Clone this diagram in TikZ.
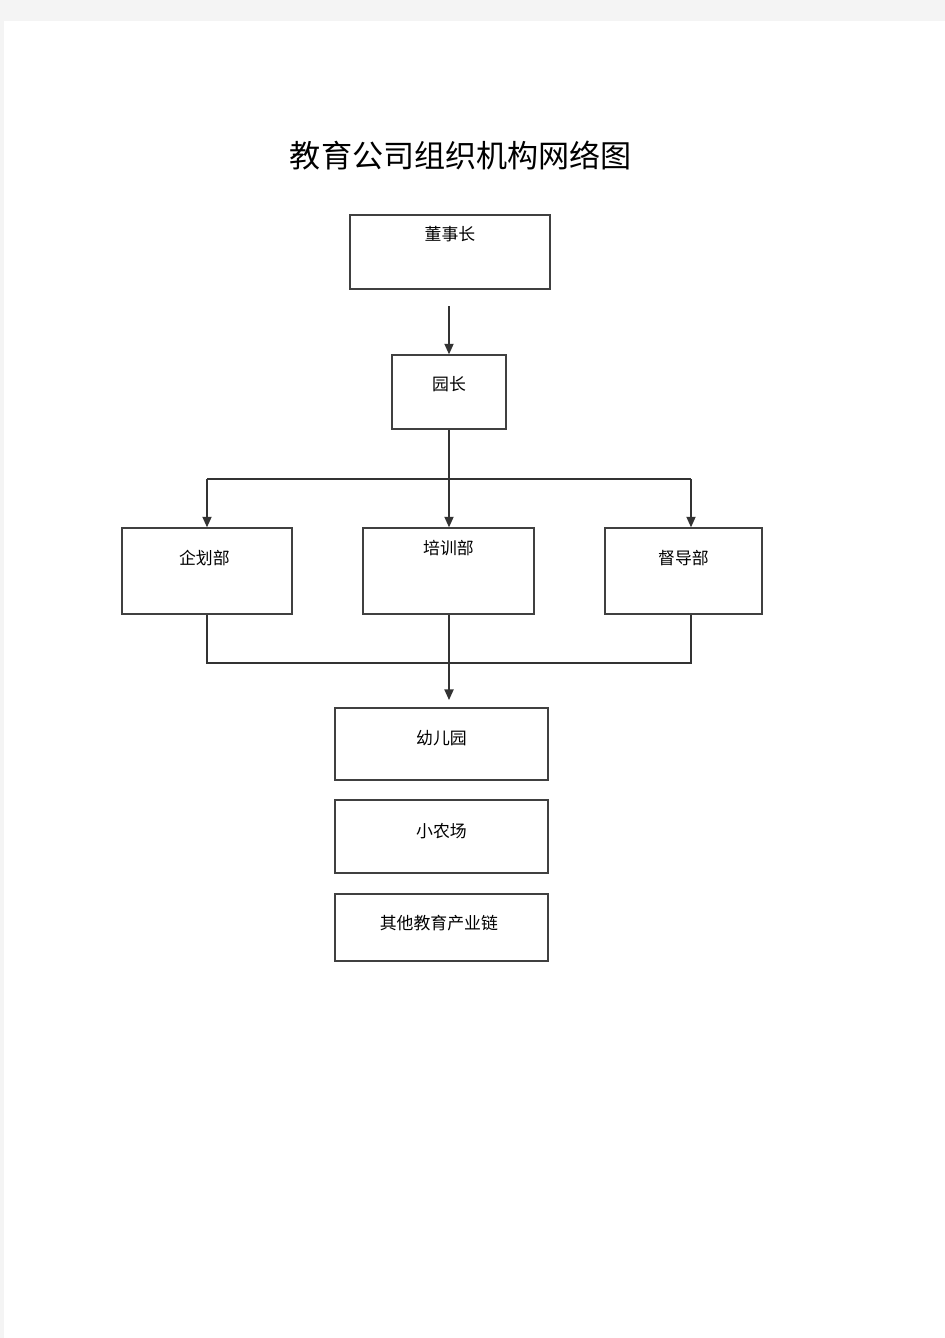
\documentclass[tikz,border=0pt]{standalone}
\usepackage{fontspec}
\newfontfamily\cjk{Noto Sans CJK SC}
\usetikzlibrary{arrows.meta}
\definecolor{pagegray}{HTML}{F4F4F4}
\tikzset{
  box/.style={draw=black!75, line width=0.8pt, inner sep=0pt},
  link/.style={draw=black!80, line width=0.8pt},
  tip/.style={link, -{Triangle[length=6pt,width=5.2pt]}},
}
\begin{document}
\begin{tikzpicture}[x=0.02cm, y=-0.02cm, font=\cjk\fontsize{9.6}{11}\selectfont]
  \fill[pagegray] (0,0) rectangle (945,1338);
  \fill[white] (4,21) rectangle (945,1338);
  \useasboundingbox (0,0) rectangle (945,1338);
  \node (title) at (461,156) {\fontsize{17.7}{20}\selectfont 教育公司组织机构网络图};
  % boxes
  \node[box, minimum width=4cm, minimum height=1.48cm,
        label={[anchor=center,yshift=-11.3pt]north:董事长}] (dsz) at (450,252) {};
  \node[box, minimum width=2.28cm, minimum height=1.48cm,
        label={[anchor=center,yshift=-16.8pt]north:园长}] (yz) at (449,392) {};
  \node[box, minimum width=3.4cm, minimum height=1.72cm,
        label={[anchor=center,yshift=-17.3pt,xshift=-1.5pt]north:企划部}] (qhb) at (207,571) {};
  \node[box, minimum width=3.42cm, minimum height=1.72cm,
        label={[anchor=center,yshift=-11.8pt]north:培训部}] (pxb) at (448.5,571) {};
  \node[box, minimum width=3.14cm, minimum height=1.72cm,
        label={[anchor=center,yshift=-17.3pt]north:督导部}] (ddb) at (683.5,571) {};
  \node[box, minimum width=4.26cm, minimum height=1.44cm,
        label={[anchor=center,yshift=-17.3pt]north:幼儿园}] (yey) at (441.5,744) {};
  \node[box, minimum width=4.26cm, minimum height=1.46cm,
        label={[anchor=center,yshift=-17.9pt]north:小农场}] (xnc) at (441.5,836.5) {};
  \node[box, minimum width=4.26cm, minimum height=1.34cm,
        label={[anchor=center,yshift=-16.8pt,xshift=-1.5pt]north:其他教育产业链}] (qt) at (441.5,927.5) {};
  % connectors
  \coordinate (top) at (449,306);
  \coordinate (busl) at (207,479);
  \coordinate (busr) at (691,479);
  \coordinate (lowl) at (207,663);
  \coordinate (lowr) at (691,663);
  \coordinate (end) at (449,700);
  \draw[tip] (top) -- (yz.north);
  \draw[tip] (yz.south) -- (yz.south |- pxb.north);
  \draw[link] (busl) -- (busr);
  \draw[tip] (busl) -- (qhb.north);
  \draw[tip] (busr) -- (busr |- ddb.north);
  \draw[link] (qhb.south) -- (lowl) -- (lowr) -- (lowr |- ddb.south);
  \draw[tip] (pxb.south -| end) -- (end);
\end{tikzpicture}
\end{document}
